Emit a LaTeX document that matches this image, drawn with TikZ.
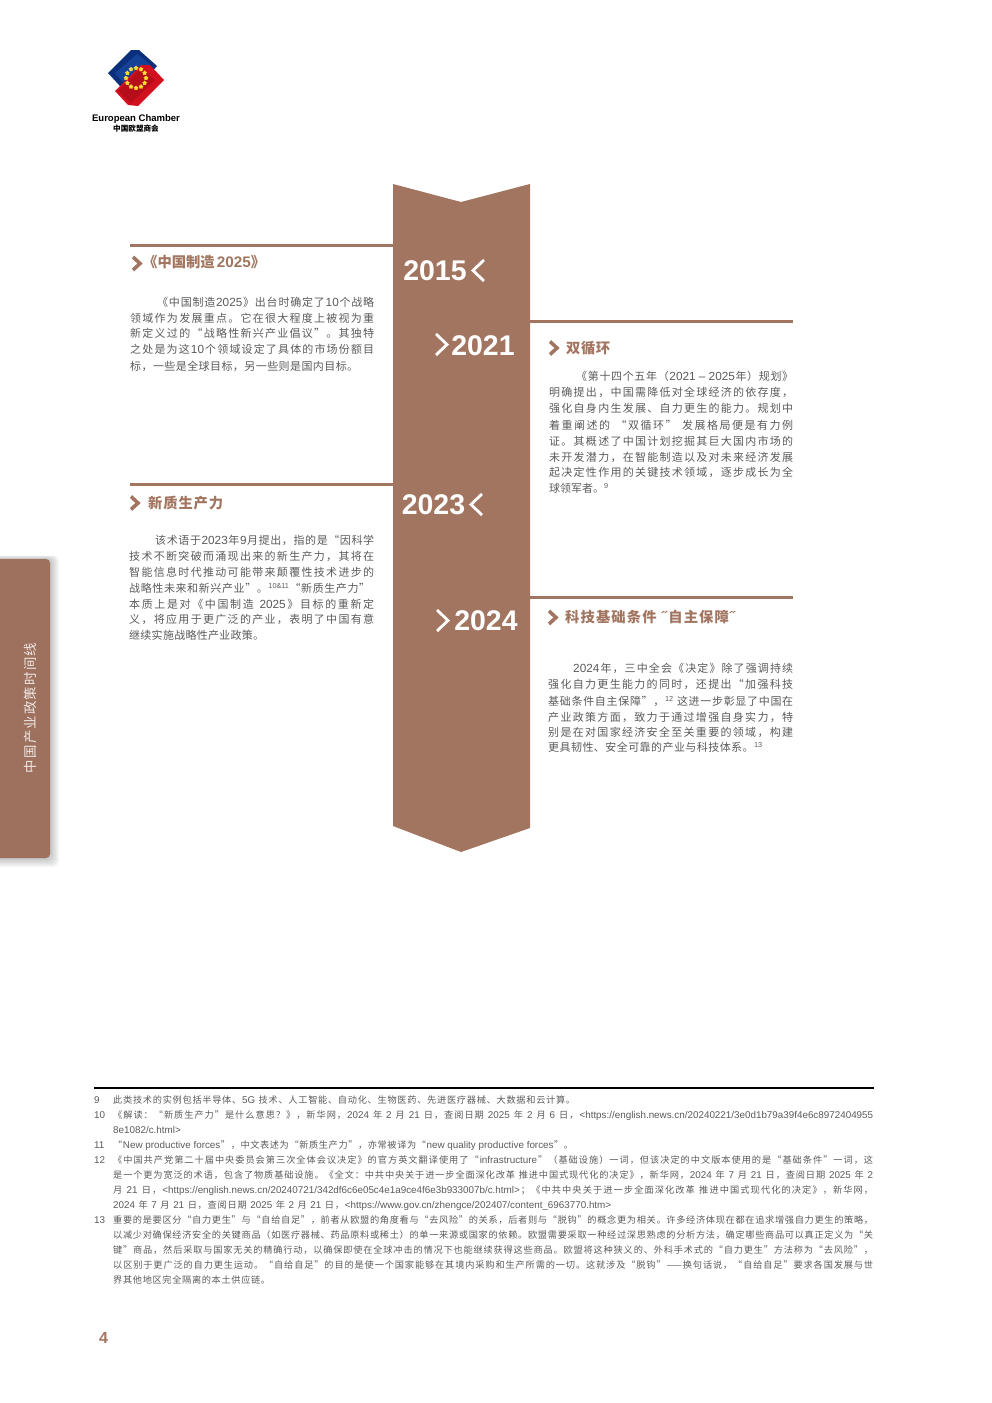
\documentclass[tikz,border=0pt]{standalone}
\usepackage{fontspec}
\usepackage{xcolor}
\usetikzlibrary{shapes.geometric}
\setmainfont{Noto Sans CJK SC}
\newfontfamily\latfont[Scale=1.07]{Liberation Sans}
\definecolor{ribbon}{HTML}{A27560}
\definecolor{bodygrey}{HTML}{5A5A5A}
\definecolor{logoblueA}{HTML}{0B2F7A}
\definecolor{logoblueB}{HTML}{134296}
\definecolor{logoredA}{HTML}{D3101F}
\definecolor{logoredB}{HTML}{B50D1A}
\newcommand{\lat}{\latfont}
\newcommand{\sups}[1]{\raisebox{3.8pt}{\latfont\fontsize{6.8}{7}\selectfont #1}}
% a line set to a given width, with the spare room between its characters
\def\spreadendtok{\spreadend}
\def\spreadfirst#1{{#1}\spreadscan}
\def\spreadscan#1{\def\spreadtok{#1}\ifx\spreadtok\spreadendtok\else\hskip 0pt plus 1fil{#1}\expandafter\spreadscan\fi}
\newcommand{\spread}[2]{\hbox to #1pt{\spreadfirst#2\spreadend}}
\tikzset{
  rulebar/.style={draw=ribbon,line width=3pt},
  yeartext/.style={anchor=center,inner sep=0,text=white,font=\latfont\bfseries\fontsize{26.6}{29}\selectfont},
  yearchev/.style={draw=white,line width=2.8pt,miter limit=10},
  markchev/.style={draw=ribbon,line width=3.6pt,miter limit=10},
  headtext/.style={anchor=west,inner sep=0,text=ribbon,font=\bfseries\fontsize{14.3}{16}\selectfont},
  bodyline/.style={anchor=base west,inner sep=0,text=bodygrey,font=\fontsize{11}{12}\selectfont},
  noteline/.style={anchor=base west,inner sep=0,text=bodygrey,font=\fontsize{9.2}{10}\selectfont},
  notenum/.style={anchor=base west,inner sep=0,text=bodygrey,font=\latfont\fontsize{9.2}{10}\selectfont},
}
\begin{document}
\begin{tikzpicture}[x=1pt,y=-1pt]
\useasboundingbox (0,0) rectangle (992,1403);
% side tab
\foreach \s in {9,8,...,1}
  \fill[black,opacity=0.028,rounded corners=5pt] (-10,559+\s*0.6-\s) rectangle (50+\s,858+\s);
\fill[ribbon!97!black,rounded corners=4pt] (-10,559) rectangle (50,858);
\node[rotate=90,inner sep=0,text=white!85!ribbon,font=\fontsize{13.4}{14}\selectfont] (sidelabel) at (30,708) {\spread{130}{中国产业政策时间线}};
% logo
\fill[logoblueA] (108,73) -- (131,50) -- (139,50) -- (157,66) -- (130,97) -- cycle;
\fill[logoblueB] (115,73) -- (137,54) -- (150,64) -- (128,88) -- cycle;
\fill[logoredA] (115,91) -- (141,65) -- (150,65) -- (164,80) -- (138,106) -- (128,105) -- cycle;
\fill[logoredB] (118,91) -- (141,68) -- (155,80) -- (131,103) -- cycle;
\foreach \a in {0,30,...,330}
  \node[star,star points=5,fill=yellow!70!orange!80!white,inner sep=0,minimum size=5pt] (star\a) at ([shift={(\a:10)}]136,78) {};
\node[inner sep=0,text=black,font=\latfont\bfseries\fontsize{8.9}{11}\selectfont] (logoname) at (136,119) {European Chamber};
\node[inner sep=0,text=black,font=\bfseries\fontsize{7.6}{8}\selectfont] (logosub) at (136,129) {中国欧盟商会};
% ribbon
\fill[ribbon] (393,184) -- (461,202) -- (530,184) -- (530,828) -- (461,852) -- (393,826) -- cycle;
\coordinate (railL1) at (393,245);
\coordinate (railL2) at (393,484);
\coordinate (railR1) at (530,321);
\coordinate (railR2) at (530,597);
\coordinate (endL1) at (130,245);
\coordinate (endL2) at (130,484);
\coordinate (endR1) at (793,321);
\coordinate (endR2) at (793,597);
\draw[rulebar] (endL1) -- (railL1);
\draw[rulebar] (endL2) -- (railL2);
\draw[rulebar] (railR1) -- (endR1);
\draw[rulebar] (railR2) -- (endR2);
% years
\node[yeartext] (y2015) at (435,271) {2015};
\node[yeartext] (y2021) at (483,346) {2021};
\node[yeartext] (y2023) at (433.5,505) {2023};
\node[yeartext] (y2024) at (486,621) {2024};
\draw[yearchev] (484,260) -- (473,270.5) -- (484,281);
\draw[yearchev] (436,334) -- (447,344.5) -- (436,355);
\draw[yearchev] (482,494) -- (471,504.5) -- (482,515);
\draw[yearchev] (437,610) -- (448,620.5) -- (437,631);
% headings
\draw[markchev] (133,257) -- (140,263.5) -- (133,270);
\draw[markchev] (131,496.5) -- (138,503) -- (131,509.5);
\draw[markchev] (550,341.5) -- (557,348) -- (550,354.5);
\draw[markchev] (549,611) -- (556,617.5) -- (549,624);
\node[headtext] (headA) at (143,262) {\spread{122}{《中国制造~{\lat\bfseries 2025}》}};
\node[headtext] (headB) at (148,503) {\spread{75}{新质生产力}};
\node[headtext] (headC) at (566,348) {\spread{44}{双循环}};
\node[headtext] (headD) at (565,617) {\spread{170}{科技基础条件~{\lat\bfseries ˝}自主保障{\lat\bfseries ˝}}};
% left column, first block
\node[bodyline] (a1) at (157,306) {\spread{217}{《中国制造{\lat 2025}》出台时确定了{\lat 10}个战略}};
\node[bodyline] (a2) at (130,322) {\spread{244}{领域作为发展重点。它在很大程度上被视为重}};
\node[bodyline] (a3) at (130,337) {\spread{244}{新定义过的“战略性新兴产业倡议”。其独特}};
\node[bodyline] (a4) at (130,353) {\spread{244}{之处是为这{\lat 10}个领域设定了具体的市场份额目}};
\node[bodyline] (a5) at (130,370) {\spread{228}{标，一些是全球目标，另一些则是国内目标。}};
% left column, second block
\node[bodyline] (b1) at (155,544) {\spread{219}{该术语于{\lat 2023}年{\lat 9}月提出，指的是“因科学}};
\node[bodyline] (b2) at (129,560) {\spread{245}{技术不断突破而涌现出来的新生产力，其将在}};
\node[bodyline] (b3) at (129,576) {\spread{245}{智能信息时代推动可能带来颠覆性技术进步的}};
\node[bodyline] (b4) at (129,592) {\spread{241}{战略性未来和新兴产业”。{\sups{10\&11}}“新质生产力”}};
\node[bodyline] (b5) at (129,608) {\spread{245}{本质上是对《中国制造~{\lat 2025}》目标的重新定}};
\node[bodyline] (b6) at (129,623) {\spread{245}{义，将应用于更广泛的产业，表明了中国有意}};
\node[bodyline] (b7) at (129,639) {\spread{135}{继续实施战略性产业政策。}};
% right column, first block
\node[bodyline] (c1) at (576,380) {\spread{217}{《第十四个五年（{\lat 2021 – 2025}年）规划》}};
\node[bodyline] (c2) at (549,396) {\spread{244}{明确提出，中国需降低对全球经济的依存度，}};
\node[bodyline] (c3) at (549,412) {\spread{244}{强化自身内生发展、自力更生的能力。规划中}};
\node[bodyline] (c4) at (549,429) {\spread{244}{着重阐述的~“双循环”~发展格局便是有力例}};
\node[bodyline] (c5) at (549,445) {\spread{244}{证。其概述了中国计划挖掘其巨大国内市场的}};
\node[bodyline] (c6) at (549,461) {\spread{244}{未开发潜力，在智能制造以及对未来经济发展}};
\node[bodyline] (c7) at (549,476) {\spread{244}{起决定性作用的关键技术领域，逐步成长为全}};
\node[bodyline] (c8) at (549,492) {\spread{58}{球领军者。{\sups{9}}}};
% right column, second block
\node[bodyline] (d1) at (573,672) {\spread{220}{{\lat 2024}年，三中全会《决定》除了强调持续}};
\node[bodyline] (d2) at (548,688) {\spread{245}{强化自力更生能力的同时，还提出“加强科技}};
\node[bodyline] (d3) at (548,705) {\spread{245}{基础条件自主保障”，{\sups{12}}~这进一步彰显了中国在}};
\node[bodyline] (d4) at (548,721) {\spread{245}{产业政策方面，致力于通过增强自身实力，特}};
\node[bodyline] (d5) at (548,736) {\spread{245}{别是在对国家经济安全至关重要的领域，构建}};
\node[bodyline] (d6) at (548,751) {\spread{214}{更具韧性、安全可靠的产业与科技体系。{\sups{13}}}};
% footnotes
\coordinate (noteL) at (94,1088);
\coordinate (noteR) at (874,1088);
\draw[black,line width=2pt] (noteL) -- (noteR);
\node[notenum] (n9) at (94,1103) {9};
\node[notenum] (n10) at (94,1118) {10};
\node[notenum] (n11) at (94,1148) {11};
\node[notenum] (n12) at (94,1163) {12};
\node[notenum] (n13) at (94,1223) {13};
\node[noteline] (f1) at (113,1103) {\spread{462}{此类技术的实例包括半导体、{\lat 5G}~技术、人工智能、自动化、生物医药、先进医疗器械、大数据和云计算。}};
\node[noteline] (f2) at (113,1118) {\spread{760}{《解读：“新质生产力”是什么意思？》，新华网，{\lat 2024}~年~{\lat 2}~月~{\lat 21}~日，查阅日期~{\lat 2025}~年~{\lat 2}~月~{\lat 6}~日，{\lat <https://english.news.cn/20240221/3e0d1b79a39f4e6c8972404955}}};
\node[noteline] (f3) at (113,1133) {{\lat 8e1082/c.html>}};
\node[noteline] (f4) at (113,1148) {\spread{460}{“{\lat New productive forces}”，中文表述为“新质生产力”，亦常被译为“{\lat new quality productive forces}”。}};
\node[noteline] (f5) at (113,1163) {\spread{760}{《中国共产党第二十届中央委员会第三次全体会议决定》的官方英文翻译使用了“{\lat infrastructure}”（基础设施）一词，但该决定的中文版本使用的是“基础条件”一词，这}};
\node[noteline] (f6) at (113,1178) {\spread{760}{是一个更为宽泛的术语，包含了物质基础设施。《全文：中共中央关于进一步全面深化改革~推进中国式现代化的决定》，新华网，{\lat 2024}~年~{\lat 7}~月~{\lat 21}~日，查阅日期~{\lat 2025}~年~{\lat 2}}};
\node[noteline] (f7) at (113,1193) {\spread{760}{月~{\lat 21}~日，{\lat <https://english.news.cn/20240721/342df6c6e05c4e1a9ce4f6e3b933007b/c.html>}；《中共中央关于进一步全面深化改革~推进中国式现代化的决定》，新华网，}};
\node[noteline] (f8) at (113,1208) {\spread{498}{{\lat 2024}~年~{\lat 7}~月~{\lat 21}~日，查阅日期~{\lat 2025}~年~{\lat 2}~月~{\lat 21}~日，{\lat <https://www.gov.cn/zhengce/202407/content\_6963770.htm>}}};
\node[noteline] (f9) at (113,1223) {\spread{760}{重要的是要区分“自力更生”与“自给自足”，前者从欧盟的角度看与“去风险”的关系，后者则与“脱钩”的概念更为相关。许多经济体现在都在追求增强自力更生的策略，}};
\node[noteline] (f10) at (113,1238) {\spread{760}{以减少对确保经济安全的关键商品（如医疗器械、药品原料或稀土）的单一来源或国家的依赖。欧盟需要采取一种经过深思熟虑的分析方法，确定哪些商品可以真正定义为“关}};
\node[noteline] (f11) at (113,1253) {\spread{760}{键”商品，然后采取与国家无关的精确行动，以确保即使在全球冲击的情况下也能继续获得这些商品。欧盟将这种狭义的、外科手术式的“自力更生”方法称为“去风险”，}};
\node[noteline] (f12) at (113,1268) {\spread{760}{以区别于更广泛的自力更生运动。“自给自足”的目的是使一个国家能够在其境内采购和生产所需的一切。这就涉及“脱钩”{——}换句话说，“自给自足”要求各国发展与世}};
\node[noteline] (f13) at (113,1283) {\spread{157}{界其他地区完全隔离的本土供应链。}};
% page number
\node[inner sep=0,text=ribbon,font=\latfont\bfseries\fontsize{15}{16}\selectfont] (pagenum) at (103.5,1338) {4};
\end{tikzpicture}
\end{document}
